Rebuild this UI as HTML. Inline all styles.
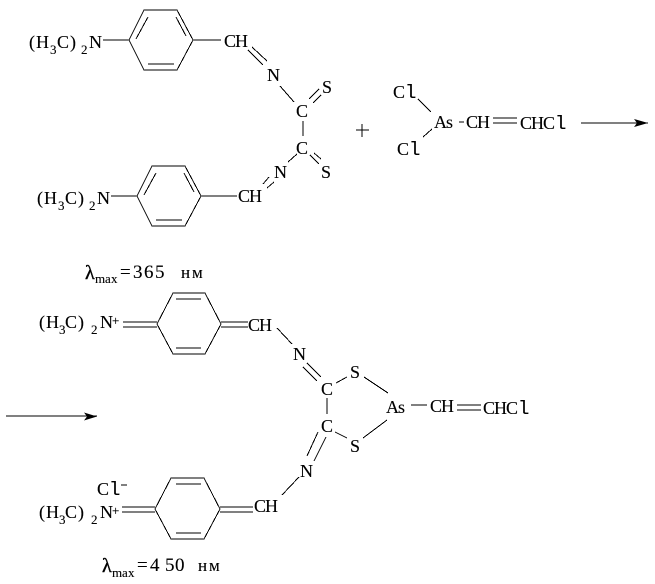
<!DOCTYPE html>
<html><head><meta charset="utf-8"><style>
html,body{margin:0;padding:0;background:#fff;width:655px;height:584px;overflow:hidden}
svg{display:block}
text{font-family:"Liberation Serif",serif;font-size:18px;fill:#000;stroke:#000;stroke-width:.12}
.m{font-family:"Liberation Mono",monospace;font-size:19px}
.s{font-size:13px}
.d{font-size:19px}
.r{font-size:17px}
.g{font-size:20px;stroke-width:.4}
path.l{stroke:#000;stroke-width:1;fill:none;shape-rendering:crispEdges}
</style></head><body>
<svg width="655" height="584" viewBox="0 0 655 584" xmlns="http://www.w3.org/2000/svg">
<path class="l" d="M129 40L144 10H177L193 40L177 70H144ZM136 39L148 17M176 17L186 36M148 64H174M103 40H129M193 40H221M252 47L267 61M248 50L263 65M280 86L294 102M309 99L319 89M313 103L321 95M303 121V136M314 153L321 159M310 155L319 164M297 154L288 162M269 177L263 184M274 182L267 188"/>
<path class="l" d="M137 196L152 166H185L201 196L185 226H152ZM144 195L156 173M184 173L194 192M156 220H182M111 196H137M201 196H237"/>
<path class="l" d="M356 130H369M362 124V137M418 99L431 112M423 137L432 129M459 122H464M493 118H517M493 123H517M581 123H648"/>
<polygon points="648,123 634,119 637,123 634,127" fill="#000"/>
<path class="l" d="M157 324L173 293H205L221 324L205 354H173ZM176 299H201M176 348H201M123 322H157M123 327H157M221 322H248M221 327H248M277 328L292 344M307 363L321 377M303 367L317 381M336 383L347 377M364 377L388 393M327 398V414M318 432L307 456M326 437L314 461M299 477L282 495M335 432L347 438M363 438L387 420M411 405H427M457 405H481M457 410H481"/>
<path class="l" d="M155 509L171 478H204L220 509L204 539H171ZM176 484H201M176 533H201M122 507H155M122 512H155M220 507H253M220 512H253M121 485H127M6 416H97"/>
<polygon points="97,416.5 84,412.5 87,416.5 84,420.5" fill="#000"/>

<text x="29 36" y="48">(H</text><text class="s" x="50" y="54">3</text><text x="57 70" y="48">C)</text><text class="s" x="81" y="54">2</text><text x="89" y="48">N</text>
<text x="224 235" y="47">CH</text><text x="267" y="81">N</text><text x="296" y="117">C</text><text x="322" y="93">S</text><text x="296" y="154">C</text><text x="321" y="178">S</text><text x="274" y="178">N</text><text x="238 249" y="202">CH</text>
<text x="37 44" y="204">(H</text><text class="s" x="58" y="210">3</text><text x="65 78" y="204">C)</text><text class="s" x="89" y="210">2</text><text x="97" y="204">N</text>
<text class="g" x="85" y="279">λ</text><text class="s" x="95 105 111" y="283">max</text><text class="d" x="120 133 144 155" y="278">=365</text><text class="r" x="181 192" y="278">нм</text>

<text x="393" y="98">C</text><text class="m" x="405" y="98">l</text>
<text x="434 446" y="128">As</text><text x="466 477" y="128">CH</text>
<text x="520 531 543" y="129">CHC</text><text class="m" x="555" y="129">l</text>
<text x="397" y="155">C</text><text class="m" x="409" y="155">l</text>

<text x="39 46" y="328">(H</text><text class="s" x="59" y="334">3</text><text x="65 78" y="328">C)</text><text class="s" x="91" y="334">2</text><text x="100" y="328">N</text><text class="s" x="112" y="325">+</text>
<text x="248 259" y="331">CH</text><text x="293" y="360">N</text><text x="321" y="395">C</text><text x="350" y="378">S</text><text x="321" y="432">C</text><text x="350" y="452">S</text><text x="300" y="477">N</text>
<text x="386 398" y="413">As</text><text x="430 441" y="412">CH</text><text x="483 494 506" y="414">CHC</text><text class="m" x="518" y="414">l</text>
<text x="254 265" y="512">CH</text>
<text x="97" y="495">C</text><text class="m" x="109" y="495">l</text>
<text x="39 46" y="518">(H</text><text class="s" x="59" y="524">3</text><text x="65 78" y="518">C)</text><text class="s" x="91" y="524">2</text><text x="100" y="518">N</text><text class="s" x="112" y="515">+</text>
<text class="g" x="102" y="572">λ</text><text class="s" x="112 122 128" y="577">max</text><text class="d" x="137 150 165 175" y="571">=450</text><text class="r" x="198 209" y="571">нм</text>
</svg>
</body></html>
